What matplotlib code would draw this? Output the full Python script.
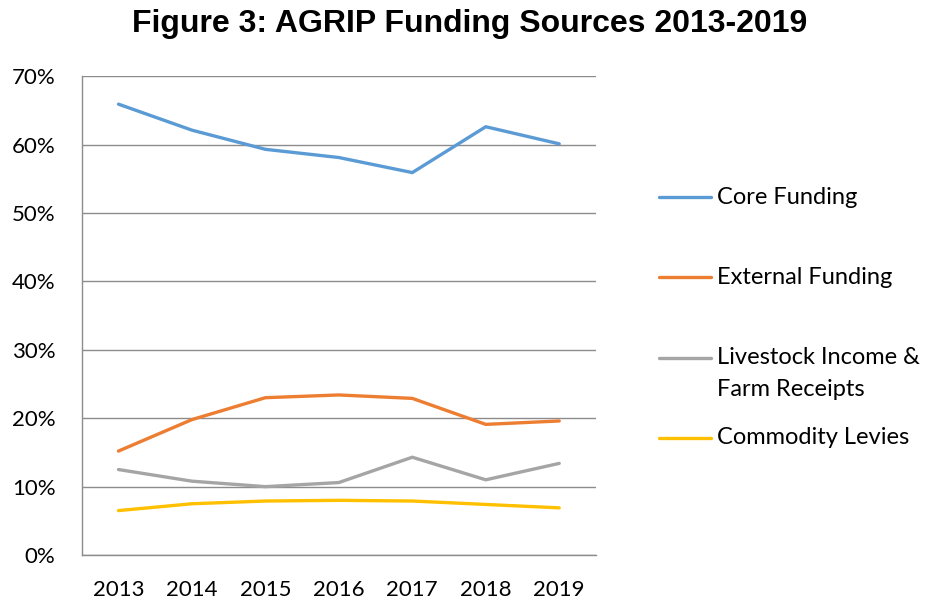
import matplotlib
matplotlib.use("Agg")
import matplotlib.pyplot as plt
from matplotlib.lines import Line2D
from matplotlib.ticker import FuncFormatter

years = ["2013", "2014", "2015", "2016", "2017", "2018", "2019"]
core = [65.9, 62.1, 59.3, 58.1, 55.9, 62.6, 60.1]
external = [15.2, 19.8, 23.0, 23.4, 22.9, 19.1, 19.6]
livestock = [12.5, 10.8, 10.0, 10.6, 14.3, 11.0, 13.4]
levies = [6.5, 7.5, 7.9, 8.0, 7.9, 7.4, 6.9]

labels = ["Core Funding", "External Funding", "Livestock Income &\nFarm Receipts", "Commodity Levies"]
colors = ["#5B9BD5", "#ED7D31", "#A5A5A5", "#FFC000"]
series = [core, external, livestock, levies]

font = ["Lato", "DejaVu Sans"]

fig = plt.figure(figsize=(9.29, 6.04), dpi=100)
ax = fig.add_axes([0.088, 0.081, 0.5535, 0.793])

x = range(len(years))
for vals, c in zip(series, colors):
    ax.plot(x, vals, color=c, lw=2.4, solid_capstyle="round", zorder=3)

ax.set_xlim(-0.5, len(years) - 0.5)
ax.set_ylim(0, 70)
ax.set_yticks(range(0, 71, 10))
ax.yaxis.set_major_formatter(FuncFormatter(lambda v, p: f"{v:.0f}%"))
ax.set_xticks(list(x))
ax.set_xticklabels(years)
ax.grid(axis="y", color="#8c8c8c", lw=1, zorder=1)
ax.tick_params(length=0, labelsize=16, colors="black")
ax.tick_params(axis="y", pad=19)
ax.tick_params(axis="x", pad=18)
for lab in ax.get_xticklabels() + ax.get_yticklabels():
    lab.set_family(font)
for s in ["top", "right"]:
    ax.spines[s].set_visible(False)
for s in ["left", "bottom"]:
    ax.spines[s].set_color("#8c8c8c")
    ax.spines[s].set_linewidth(1)

fig.text(0.506, 0.961, "Figure 3: AGRIP Funding Sources 2013-2019", ha="center", va="center",
         fontsize=23, fontweight="bold", family=["Liberation Sans", "DejaVu Sans"])

# legend drawn by hand so the two-line entry keeps Excel's spacing
leg_y = [197, 277, 358, 438]
for lab, c, yy in zip(labels, colors, leg_y):
    yf = 1 - yy / 604
    fig.add_artist(Line2D([659 / 929, 711 / 929], [yf, yf], color=c, lw=2.4,
                          solid_capstyle="round", transform=fig.transFigure))
    if "\n" in lab:
        fig.text(717 / 929, yf + 0.0185, lab, ha="left", va="top", fontsize=17,
                 family=font, linespacing=1.65)
    else:
        fig.text(717 / 929, yf, lab, ha="left", va="center", fontsize=17, family=font)

fig.savefig("out.png", dpi=100)
